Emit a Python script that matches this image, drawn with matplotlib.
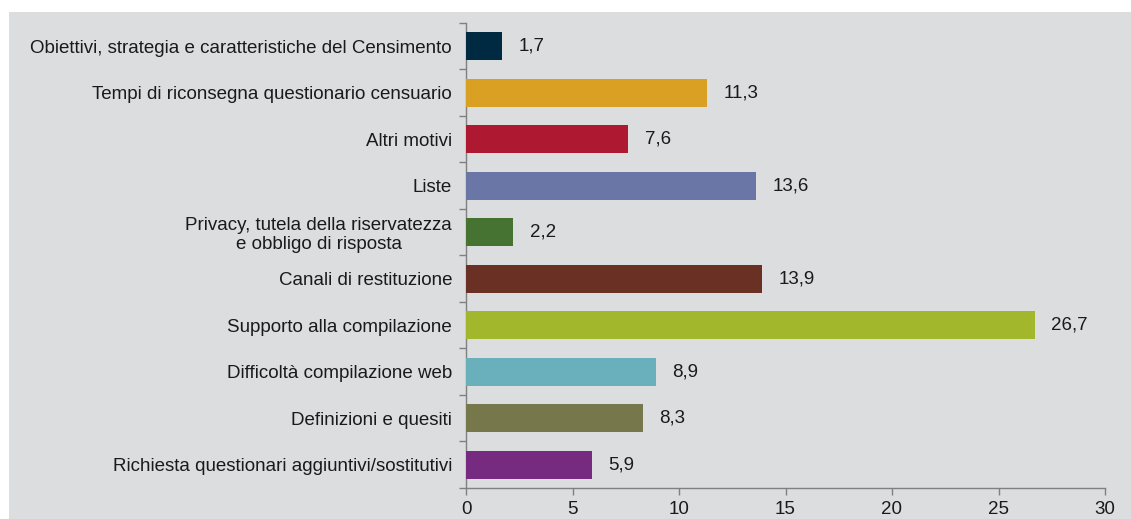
import matplotlib
matplotlib.use("Agg")
import matplotlib.pyplot as plt
from matplotlib.patches import Rectangle
import numpy as np

plt.rcParams['font.family'] = ['Liberation Sans', 'DejaVu Sans']

categories = [
    "Obiettivi, strategia e caratteristiche del Censimento",
    "Tempi di riconsegna questionario censuario",
    "Altri motivi",
    "Liste",
    "Privacy, tutela della riservatezza\ne obbligo di risposta",
    "Canali di restituzione",
    "Supporto alla compilazione",
    "Difficoltà compilazione web",
    "Definizioni e quesiti",
    "Richiesta questionari aggiuntivi/sostitutivi",
]
values = [1.7, 11.3, 7.6, 13.6, 2.2, 13.9, 26.7, 8.9, 8.3, 5.9]
colors = ["#002a42", "#d9a023", "#ae1830", "#6a77a6", "#467332",
          "#6b3024", "#a3b72c", "#6ab0bc", "#77774c", "#762a80"]
xticks = [0, 5, 10, 15, 20, 25, 30]

BG = "#dcdddf"
FS = 13.5
TC = "#1a1a1a"
fig = plt.figure(figsize=(11.31, 5.19), dpi=100)
fig.patch.set_facecolor("white")
fig.patches.append(Rectangle((9 / 1131, 0), 1, (519 - 12) / 519,
                             transform=fig.transFigure, facecolor=BG,
                             edgecolor="none", zorder=-10))

ax = fig.add_axes([466 / 1131, 1 - 488 / 519, (1105 - 466) / 1131, (488 - 23) / 519])
ax.set_facecolor(BG)
ax.set_zorder(1)

n = len(categories)
y = np.arange(n)
ax.barh(y, values, height=0.6, color=colors, zorder=3)
for yi, v in zip(y, values):
    ax.annotate(f"{v:.1f}".replace(".", ","), (v, yi), xytext=(12, 0),
                textcoords="offset points", va="center", ha="left",
                fontsize=FS, color=TC)

ax.set_ylim(n - 0.5, -0.5)
ax.set_xlim(0, 30)
ax.set_yticks(y)
ax.set_yticklabels(categories, fontsize=FS, color=TC, multialignment="center",
                   linespacing=1.12)
ax.set_yticks(np.arange(-0.5, n, 1), minor=True)
ax.tick_params(axis="y", which="major", length=0, pad=10)
ax.tick_params(axis="y", which="minor", length=5, color="#808080", width=1)
ax.set_xticks(xticks)
ax.set_xticklabels([str(t) for t in xticks], fontsize=FS, color=TC)
ax.tick_params(axis="x", length=5, color="#808080", width=1, pad=4)

for s in ["top", "right"]:
    ax.spines[s].set_visible(False)
for s in ["left", "bottom"]:
    ax.spines[s].set_color("#808080")
    ax.spines[s].set_linewidth(1)

fig.savefig("out.png", dpi=100, facecolor=fig.get_facecolor())
